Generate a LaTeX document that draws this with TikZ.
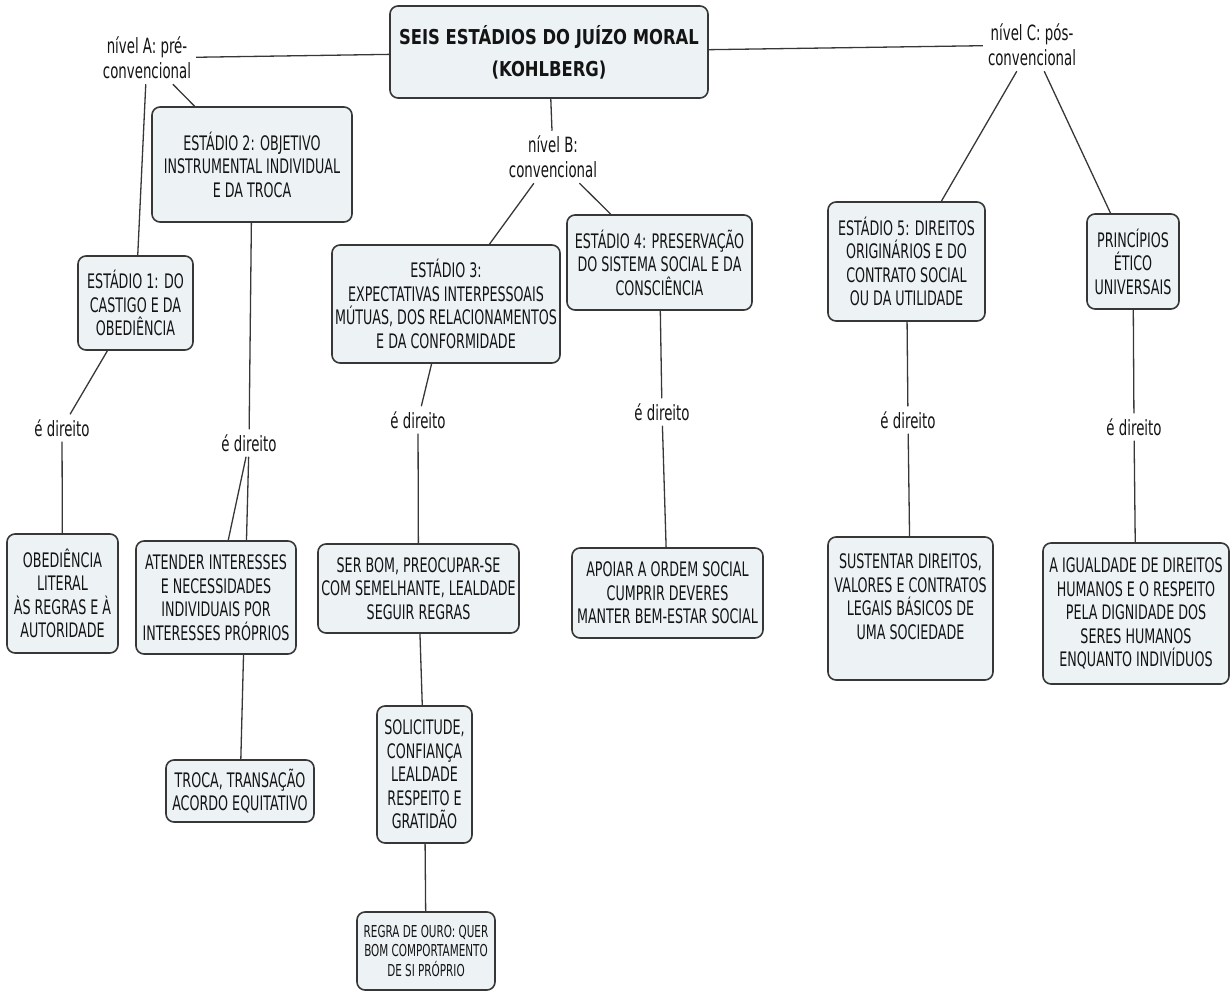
\documentclass[tikz,border=0pt]{standalone}
\usepackage{fontspec}
\newfontfamily\mapfont{DejaVu Sans}[FakeStretch=0.635]
\newfontfamily\titlefont{DejaVu Sans}[FakeStretch=0.8]
\usetikzlibrary{backgrounds}
\definecolor{boxfill}{RGB}{237,242,245}
\definecolor{boxline}{RGB}{55,55,55}
\definecolor{txt}{RGB}{20,20,20}
\tikzset{
 conc/.style={draw=boxline, line width=1.6pt, fill=boxfill, rounded corners=8pt, inner sep=0pt, align=center, text=txt, font=\mapfont\fontsize{20}{23.5}\selectfont},
 small/.style={font=\mapfont\fontsize{16.4}{19.5}\selectfont},
 lbl/.style={inner sep=5pt, align=center, text=txt, font=\mapfont\fontsize{21}{25}\selectfont},
 link/.style={draw=boxline, line width=1.3pt},
}
\begin{document}
\begin{tikzpicture}[x=1pt,y=-1pt]
\path[use as bounding box] (0,0) rectangle (1232,992);
% concepts
\node[conc, minimum width=318pt, minimum height=92pt, font=\titlefont\bfseries\fontsize{20.5}{32}\selectfont] (root) at (549,52) {SEIS ESTÁDIOS DO JUÍZO MORAL\\(KOHLBERG)};
\node[conc, minimum width=200pt, minimum height=115pt] (s2) at (252,164.5) {ESTÁDIO 2: OBJETIVO\\INSTRUMENTAL INDIVIDUAL\\E DA TROCA};
\node[conc, minimum width=115pt, minimum height=94pt] (s1) at (135.5,303) {ESTÁDIO 1: DO\\CASTIGO E DA\\OBEDIÊNCIA};
\node[conc, minimum width=228pt, minimum height=118pt] (s3) at (446,304) {ESTÁDIO 3:\\EXPECTATIVAS INTERPESSOAIS\\MÚTUAS, DOS RELACIONAMENTOS\\E DA CONFORMIDADE};
\node[conc, minimum width=185pt, minimum height=95pt] (s4) at (659.5,262.5) {ESTÁDIO 4: PRESERVAÇÃO\\DO SISTEMA SOCIAL E DA\\CONSCIÊNCIA};
\node[conc, minimum width=157pt, minimum height=119pt] (s5) at (906.5,261.5) {ESTÁDIO 5: DIREITOS\\ORIGINÁRIOS E DO\\CONTRATO SOCIAL\\OU DA UTILIDADE};
\node[conc, minimum width=92pt, minimum height=95pt] (s6) at (1133,261.5) {PRINCÍPIOS\\ÉTICO\\UNIVERSAIS};
\node[conc, minimum width=111pt, minimum height=119pt] (obed) at (62.5,593.5) {OBEDIÊNCIA\\LITERAL\\ÀS REGRAS E À\\AUTORIDADE};
\node[conc, minimum width=160pt, minimum height=113pt] (atender) at (216,597.5) {ATENDER INTERESSES\\E NECESSIDADES\\INDIVIDUAIS POR\\INTERESSES PRÓPRIOS};
\node[conc, minimum width=148pt, minimum height=62pt] (troca) at (240,791) {TROCA, TRANSAÇÃO\\ACORDO EQUITATIVO};
\node[conc, minimum width=201pt, minimum height=89pt] (serbom) at (418.5,588.5) {SER BOM, PREOCUPAR-SE\\COM SEMELHANTE, LEALDADE\\SEGUIR REGRAS};
\node[conc, minimum width=95pt, minimum height=137pt] (solic) at (424.5,774.5) {SOLICITUDE,\\CONFIANÇA\\LEALDADE\\RESPEITO E\\GRATIDÃO};
\node[conc, small, minimum width=138pt, minimum height=78pt] (regra) at (426,951) {REGRA DE OURO: QUER\\BOM COMPORTAMENTO\\DE SI PRÓPRIO};
\node[conc, minimum width=191pt, minimum height=90pt] (apoiar) at (667.5,593) {APOIAR A ORDEM SOCIAL\\CUMPRIR DEVERES\\MANTER BEM-ESTAR SOCIAL};
\node[conc, minimum width=165pt, minimum height=143pt] (sust) at (910.5,608.5) {SUSTENTAR DIREITOS,\\VALORES E CONTRATOS\\LEGAIS BÁSICOS DE\\UMA SOCIEDADE\\\mbox{}};
\node[conc, minimum width=186pt, minimum height=141pt] (igual) at (1136,613.5) {A IGUALDADE DE DIREITOS\\HUMANOS E O RESPEITO\\PELA DIGNIDADE DOS\\SERES HUMANOS\\ENQUANTO INDIVÍDUOS};
% linking labels
\node[lbl] (lvA) at (147,58) {nível A: pré-\\convencional};
\node[lbl] (lvB) at (553,157) {nível B:\\convencional};
\node[lbl] (lvC) at (1032,45) {nível C: pós-\\convencional};
\node[lbl] (ed1) at (62,428) {é direito};
\node[lbl] (ed2) at (249,443) {é direito};
\node[lbl] (ed3) at (418,420) {é direito};
\node[lbl] (ed4) at (662,412) {é direito};
\node[lbl] (ed5) at (908,420) {é direito};
\node[lbl] (ed6) at (1134,427) {é direito};
% connectors
\begin{pgfonlayer}{background}
\draw[link] (root) -- (lvA);
\draw[link] (root) -- (lvB);
\draw[link] (root) -- (lvC);
\draw[link] (lvA) -- (s2);
\draw[link] (lvA) -- (s1);
\draw[link] (s1) -- (ed1);
\draw[link] (ed1) -- (obed);
\draw[link] (s2) -- (ed2);
\draw[link] (ed2) -- (atender);
\draw[link] (ed2) -- (troca);
\draw[link] (lvB) -- (s3);
\draw[link] (lvB) -- (s4);
\draw[link] (s3) -- (ed3);
\draw[link] (ed3) -- (serbom);
\draw[link] (serbom) -- (solic);
\draw[link] (solic) -- (regra);
\draw[link] (s4) -- (ed4);
\draw[link] (ed4) -- (apoiar);
\draw[link] (lvC) -- (s5);
\draw[link] (lvC) -- (s6);
\draw[link] (s5) -- (ed5);
\draw[link] (ed5) -- (sust);
\draw[link] (s6) -- (ed6);
\draw[link] (ed6) -- (igual);
\end{pgfonlayer}
\end{tikzpicture}
\end{document}
